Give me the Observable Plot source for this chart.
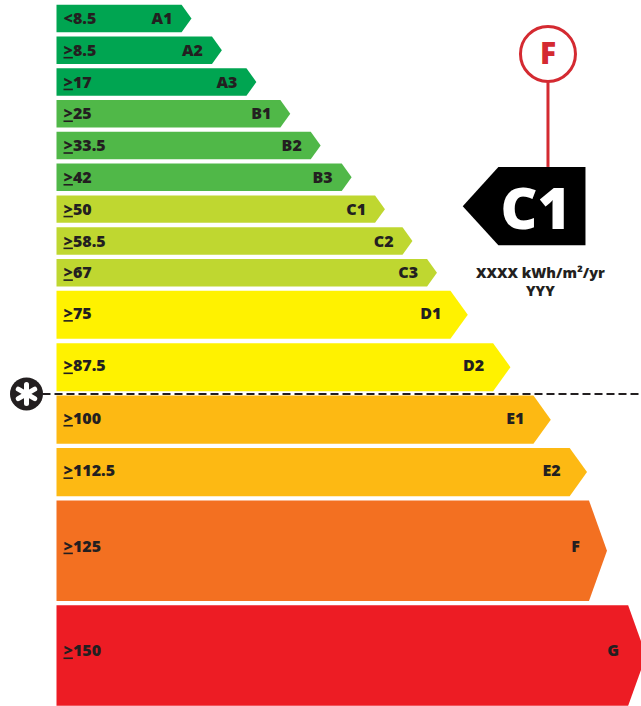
<!DOCTYPE html>
<html>
<head>
<meta charset="utf-8">
<script src="https://cdn.jsdelivr.net/npm/d3@7"></script>
<script src="https://cdn.jsdelivr.net/npm/@observablehq/plot@0.6"></script>
<style>
  html, body { margin: 0; padding: 0; background: #fff; }
  #chart svg { display: block; }
</style>
</head>
<body>
<div id="chart"></div>
<script>
// ---- data ----
const ratings    = ["A1","A2","A3","B1","B2","B3","C1","C2","C3","D1","D2","E1","E2","F","G"];
const thresholds = ["<8.5","≥8.5","≥17","≥25","≥33.5","≥42","≥50","≥58.5","≥67","≥75","≥87.5","≥100","≥112.5","≥125","≥150"];
const barLengths = [21.4, 26.6, 32.5, 38.3, 43.5, 48.8, 54.5, 59.2, 63.4, 67.4, 74.7, 81.6, 87.8, 91.1, 97.8];
const rowWeights = [1, 1, 1, 1, 1, 1, 1, 1, 1, 1.65, 1.65, 1.65, 1.65, 3.3, 3.3];
const bandColors = ["#00a551","#00a551","#00a551","#50b848","#50b848","#50b848",
                    "#bfd730","#bfd730","#bfd730","#fff200","#fff200",
                    "#fdb913","#fdb913","#f37021","#ed1c24"];
const currentRating   = "C1";
const potentialRating = "F";
const currentValue    = "XXXX kWh/m²/yr";
const currentYear     = "YYY";
const markerRating    = "E1"; // dashed line drawn above this band

// ---- layout ----
const W = 641, H = 706;
const xRange = [56.5, 641];
const yRange = [2.6, 708];
const total = d3.sum(rowWeights);
const pxX = (xRange[1] - xRange[0]) / 100;
const pxY = (yRange[1] - yRange[0]) / total;
const gap = 4.3 / pxY;
const cum = Array.from(d3.cumsum([0, ...rowWeights]));
const ink = "#231f20";
const red = "#d42a31";
const font = "'Open Sans', 'Noto Sans', sans-serif";

const bands = ratings.map((r, i) => {
  const y0 = cum[i] + gap / 2, y1 = cum[i + 1] - gap / 2;
  const ym = (y0 + y1) / 2;
  const halfPx = (y1 - y0) / 2 * pxY;
  const depth = Math.min(0.72 * halfPx, 18) / pxX;
  const lift = 0.13 * Math.max(0, halfPx - 13.75) / pxY;
  return {rating: r, threshold: thresholds[i], len: barLengths[i], y0, y1, ym, tip: barLengths[i] + depth, yl: ym - lift};
});

const arrowPts = bands.flatMap(b => [
  {rating: b.rating, y: b.y0, x1: 0, x2: b.len},
  {rating: b.rating, y: b.ym, x1: 0, x2: b.tip},
  {rating: b.rating, y: b.y1, x1: 0, x2: b.len}
]);

// current-rating pointer
const ci = ratings.indexOf(currentRating);
const pMid = (cum[ci] + cum[ci + 1]) / 2 - 3 / pxY;
const pHalf = 39.2 / pxY;
const pTip = 69.5, pLeft = 75.6, pRight = 90.5;
const pointerPts = [
  {y: pMid - pHalf, x1: pLeft, x2: pRight},
  {y: pMid,         x1: pTip,  x2: pRight},
  {y: pMid + pHalf, x1: pLeft, x2: pRight}
];
const circX = 84.0;
const circY = pMid - 152.7 / pxY;
const circR = 27.5;

// dashed marker line
const mi = ratings.indexOf(markerRating);
const lineY = cum[mi];
const starX = (26 - xRange[0]) / pxX;
const starR = 16.5;

const spoke = {draw(ctx, l) { ctx.moveTo(0, 0); ctx.lineTo(0, -l); }};

const chart = Plot.plot({
  width: W,
  height: H,
  margin: 0,
  x: {domain: [0, 100], range: xRange, axis: null},
  y: {domain: [0, total], range: yRange, axis: null},
  color: {domain: ratings, range: bandColors},
  style: {fontFamily: font, background: "#fff"},
  marks: [
    Plot.areaX(arrowPts, {y: "y", x1: "x1", x2: "x2", z: "rating", fill: "rating", curve: "linear"}),
    Plot.text(bands, {x: () => 0, y: "yl", text: "threshold", dx: 6.5, textAnchor: "start", lineAnchor: "middle",
      fontSize: 16, fontWeight: 800, fill: ink, fontFamily: font, className: "thr"}),
    Plot.text(bands, {x: "len", y: "yl", text: "rating", dx: -9.5, textAnchor: "end", lineAnchor: "middle",
      fontSize: 16, fontWeight: 800, fill: ink, fontFamily: font}),
    // dashed line and asterisk marker
    Plot.ruleY([lineY], {x1: () => starX + starR / pxX, x2: () => 102, stroke: ink, strokeWidth: 2, strokeDasharray: "8,4"}),
    Plot.dot([0], {x: () => starX, y: () => lineY, r: starR, fill: ink, stroke: "none"}),
    Plot.vector([0, 60, 120], {x: () => starX, y: () => lineY, rotate: d => d, length: 19, anchor: "middle",
      stroke: "white", strokeWidth: 5, shape: spoke}),
    // potential rating circle + stem
    Plot.ruleX([circX], {y1: () => circY + (circR + 1.5) / pxY, y2: () => pMid - pHalf, stroke: red, strokeWidth: 3}),
    Plot.dot([0], {x: () => circX, y: () => circY, r: circR, fill: "white", stroke: red, strokeWidth: 3}),
    Plot.text([potentialRating], {x: () => circX, y: () => circY, text: d => d, lineAnchor: "middle",
      fontSize: 30, fontWeight: 800, fill: red, fontFamily: font}),
    // current rating pointer
    Plot.areaX(pointerPts, {y: "y", x1: "x1", x2: "x2", fill: "black", curve: "linear"}),
    Plot.text([currentRating], {x: () => 81.9, y: () => pMid, text: d => d, dy: 22.3, lineAnchor: "bottom",
      fontSize: 57, fontWeight: 800, fill: "white", fontFamily: font}),
    Plot.text([currentValue], {x: () => 82.7, y: () => pMid, text: d => d, dy: 71, lineAnchor: "bottom",
      fontSize: 14.5, fontWeight: 800, fill: ink, fontFamily: font}),
    Plot.text([currentYear], {x: () => 82.7, y: () => pMid, text: d => d, dy: 89.5, lineAnchor: "bottom",
      fontSize: 14.5, fontWeight: 800, fill: ink, fontFamily: font})
  ]
});

// render "≥" as an underlined ">" like the original label
d3.select(chart).selectAll("g.thr text").each(function() {
  const t = this.textContent;
  if (t.startsWith("≥")) {
    this.textContent = "";
    d3.select(this).append("tspan").style("text-decoration", "underline").text(">");
    d3.select(this).append("tspan").text(t.slice(1));
  }
});
document.getElementById("chart").appendChild(chart);
</script>
</body>
</html>
